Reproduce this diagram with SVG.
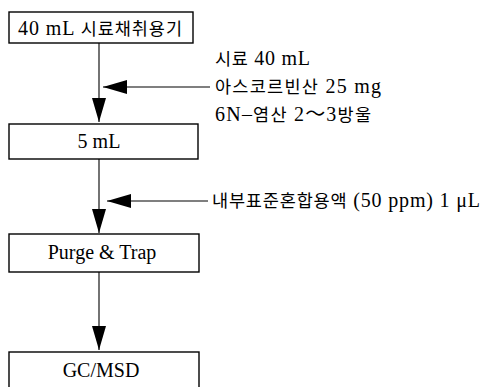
<svg xmlns="http://www.w3.org/2000/svg" width="483" height="387" viewBox="0 0 483 387">
<defs>
<style>
.box{fill:#fff;stroke:#000;stroke-width:1.4}
.t{font-family:"Liberation Serif","Noto Sans CJK KR",serif;font-size:20px;fill:#000}
.k{font-size:17.5px}
.c{text-anchor:middle}
.ln{stroke:#000;stroke-width:1.1;fill:none}
</style>
<marker id="ah" viewBox="0 0 24 14" refX="24" refY="7" markerWidth="24" markerHeight="14" markerUnits="userSpaceOnUse" orient="auto">
<path d="M0,0 L24,7 L0,14 Z" fill="#000"/>
</marker>
</defs>
<rect width="483" height="387" fill="#fff"/>
<g id="connectors">
<line class="ln" x1="99" y1="43" x2="99" y2="122" marker-end="url(#ah)"/>
<line class="ln" x1="210" y1="87" x2="103" y2="87" marker-end="url(#ah)"/>
<line class="ln" x1="99" y1="159" x2="99" y2="233" marker-end="url(#ah)"/>
<line class="ln" x1="208" y1="201" x2="107" y2="201" marker-end="url(#ah)"/>
<line class="ln" x1="99" y1="272" x2="99" y2="350" marker-end="url(#ah)"/>
</g>
<g id="n1">
<rect class="box" x="9" y="12" width="184" height="31"/>
<text class="t" x="18" y="35" textLength="164" lengthAdjust="spacing">40 mL <tspan class="k">시료채취용기</tspan></text>
</g>
<g id="n2">
<rect class="box" x="9" y="124" width="189" height="35"/>
<text class="t c" x="99" y="148">5 mL</text>
</g>
<g id="n3">
<rect class="box" x="9" y="234" width="190" height="38"/>
<text class="t c" x="102" y="259">Purge &amp; Trap</text>
</g>
<g id="n4">
<rect class="box" x="9" y="352" width="190" height="40"/>
<text class="t c" x="101" y="377">GC/MSD</text>
</g>
<g id="labels">
<text class="t" x="215" y="65" textLength="95" lengthAdjust="spacing"><tspan class="k">시료</tspan> 40 mL</text>
<text class="t" x="215" y="93" textLength="166" lengthAdjust="spacing"><tspan class="k">아스코르빈산</tspan> 25 mg</text>
<text class="t" x="215" y="121" textLength="156" lengthAdjust="spacing">6N–<tspan class="k">염산</tspan> 2～3<tspan class="k">방울</tspan></text>
<text class="t" x="212" y="207" textLength="268" lengthAdjust="spacing"><tspan class="k">내부표준혼합용액</tspan> (50 ppm) 1 μL</text>
</g>
</svg>
